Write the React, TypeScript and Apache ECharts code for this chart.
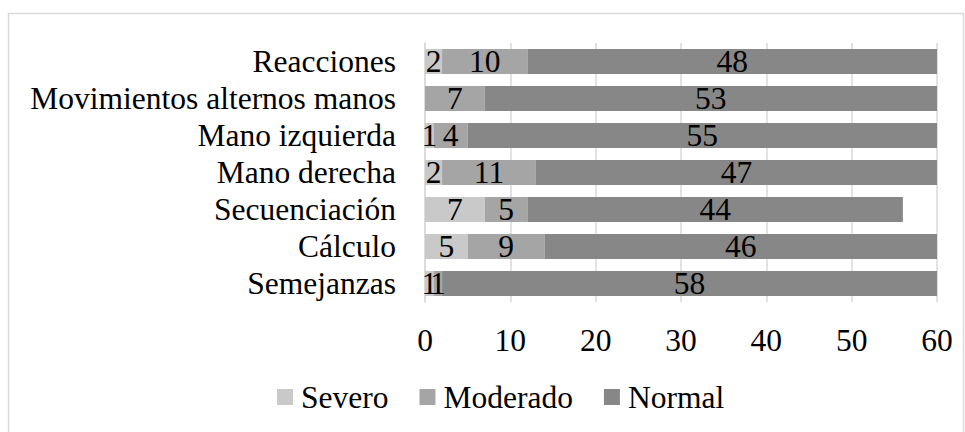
import React, { useEffect, useRef } from "react";
import * as echarts from "echarts";

const categories = [
  "Reacciones",
  "Movimientos alternos manos",
  "Mano izquierda",
  "Mano derecha",
  "Secuenciación",
  "Cálculo",
  "Semejanzas",
];
const severo = [2, 0, 1, 2, 7, 5, 1];
const moderado = [10, 7, 4, 11, 5, 9, 1];
const normal = [48, 53, 55, 47, 44, 46, 58];
const xTicks = { min: 0, max: 60, interval: 10 };

const FONT = "Liberation Serif";
const FS = 31.5;

export default function App() {
  const ref = useRef<HTMLDivElement>(null);
  useEffect(() => {
    if (!ref.current) return;
    const chart = echarts.init(ref.current, null, { renderer: "svg" });
    const label = {
      show: true,
      position: "inside",
      color: "#000",
      fontFamily: FONT,
      fontSize: FS,
      formatter: (p: any) => (p.value ? String(p.value) : ""),
    };
    const mk = (name: string, data: number[], color: string) => ({
      name,
      type: "bar",
      stack: "total",
      data,
      barWidth: 25,
      itemStyle: { color },
      label,
      emphasis: { disabled: true },
    });
    chart.setOption({
      animation: false,
      textStyle: { fontFamily: FONT },
      graphic: [
        {
          type: "rect",
          shape: { x: 8.5, y: 13.5, width: 955, height: 440 },
          style: { fill: "none", stroke: "#d9d9d9", lineWidth: 1.5 },
          silent: true,
          z: -1,
        },
      ],
      grid: { left: 425, right: 28, top: 43, bottom: 130, containLabel: false },
      legend: {
        data: ["Severo", "Moderado", "Normal"],
        left: 272,
        top: 376,
        icon: "rect",
        itemWidth: 16,
        itemHeight: 16,
        itemGap: 31,
        textStyle: { fontFamily: FONT, fontSize: FS, color: "#000", padding: [0, 0, 0, 3] },
      },
      xAxis: {
        type: "value",
        min: xTicks.min,
        max: xTicks.max,
        interval: xTicks.interval,
        axisLine: { show: false },
        axisTick: { show: false },
        splitLine: { show: true, lineStyle: { color: "#d9d9d9", width: 1.5 } },
        axisLabel: { fontFamily: FONT, fontSize: FS, color: "#000", margin: 22 },
      },
      yAxis: {
        type: "category",
        data: categories,
        inverse: true,
        axisLine: { show: true, lineStyle: { color: "#d9d9d9", width: 1.5 } },
        axisTick: { show: false },
        axisLabel: { fontFamily: FONT, fontSize: FS, color: "#000", margin: 29, interval: 0 },
      },
      series: [
        mk("Severo", severo, "#c9c9c9"),
        mk("Moderado", moderado, "#a5a5a5"),
        mk("Normal", normal, "#878787"),
      ],
    });
    return () => chart.dispose();
  }, []);
  return (
    <div
      ref={ref}
      style={{ position: "absolute", left: 0, top: 0, width: 965, height: 432, background: "#fff" }}
    />
  );
}
